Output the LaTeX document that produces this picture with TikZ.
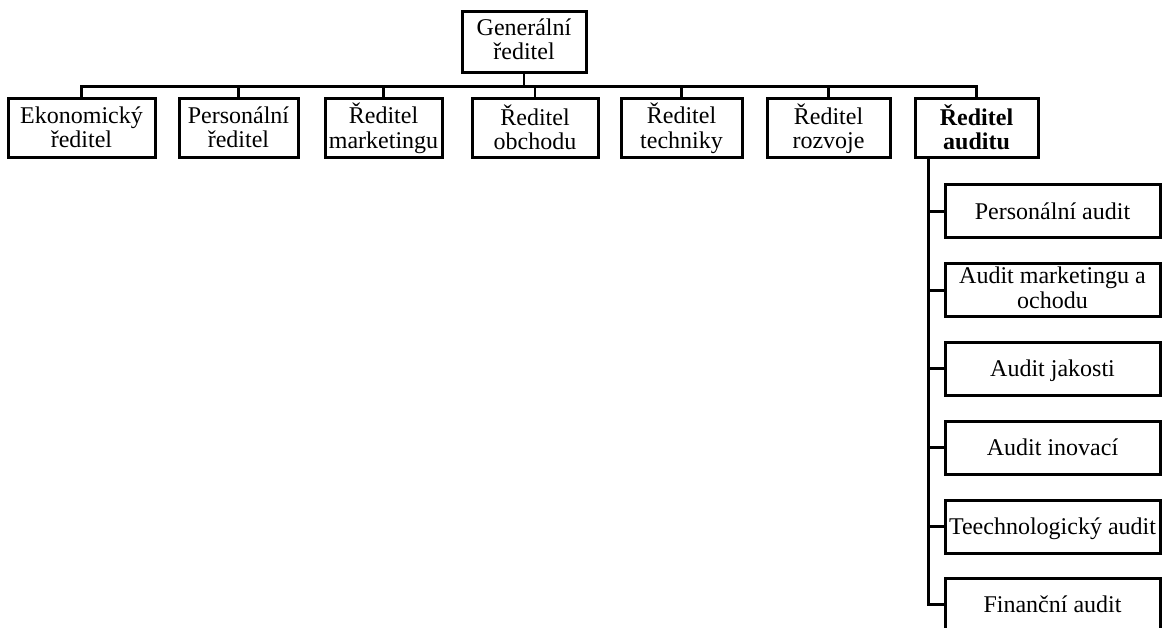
\documentclass[tikz,border=0pt]{standalone}
\usepackage{fontspec}
\setmainfont{Liberation Serif}
\begin{document}
\begin{tikzpicture}[x=1pt,y=-1pt,
  % #1 = first-line height, #2 = last-line depth: fixed so every label sits at the same level
  box/.style 2 args={draw, line width=3pt, align=center, inner sep=0pt,
    font=\fontsize{24}{24.5}\selectfont,
    execute at begin node={\rule{0pt}{#1}},
    execute at end node={\rule[-#2]{0pt}{#2}}},
  rowbox/.style={box={26pt}{3pt}, minimum height=59pt},
  subbox/.style={box={22pt}{6pt}, minimum width=215pt, minimum height=53pt},
  link/.style={line width=2.7pt}]
\useasboundingbox (0,0) rectangle (1162,628);

% top of the chart
\node[box={22pt}{6pt}, minimum width=124pt, minimum height=61pt] (gen) at (524,42.3) {Generální\\ředitel};

% directors
\node[rowbox, minimum width=147pt] (eko)  at (81.5,128.5)  {Ekonomický\\ředitel};
\node[rowbox, minimum width=119pt] (pers) at (238.5,128.5) {Personální\\ředitel};
\node[rowbox, minimum width=117pt] (mark) at (383.5,128.5) {Ředitel\\marketingu};
\node[rowbox, minimum width=126pt] (obch) at (535,128.5)   {Ředitel\\obchodu};
\node[rowbox, minimum width=121pt] (tech) at (681.5,128.5) {Ředitel\\techniky};
\node[rowbox, minimum width=123pt] (rozv) at (828.5,128.5) {Ředitel\\rozvoje};
\node[rowbox, minimum width=123pt] (aud)  at (976.5,128.5) {\textbf{Ředitel}\\\textbf{auditu}};

% audit departments
\node[subbox] (a1) at (1052.5,211.5) {Personální audit};
\node[subbox] (a2) at (1052.5,290.5) {Audit marketingu a\\ochodu};
\node[subbox] (a3) at (1052.5,368.5) {Audit jakosti};
\node[subbox] (a4) at (1052.5,447.5) {Audit inovací};
\node[subbox] (a5) at (1052.5,526.5) {Teechnologický audit};
\node[subbox] (a6) at (1052.5,604.5) {Finanční audit};

% horizontal bus below the general director
\coordinate (bus) at ([yshift=-12pt]gen.south);
\draw[link] (gen.south) -- (bus);
\draw[link, line cap=rect] (bus -| eko.north) -- (bus -| aud.north);
\foreach \n in {eko,pers,mark,obch,tech,rozv,aud}
  \draw[link] (bus -| \n.north) -- (\n.north);

% audit trunk and branches
\coordinate (trunk) at ([xshift=15pt]aud.south west);
\draw[link] (trunk) |- (a6.west);
\foreach \n in {a1,a2,a3,a4,a5}
  \draw[link] (\n.west) -- (\n.west -| trunk);
\end{tikzpicture}
\end{document}
